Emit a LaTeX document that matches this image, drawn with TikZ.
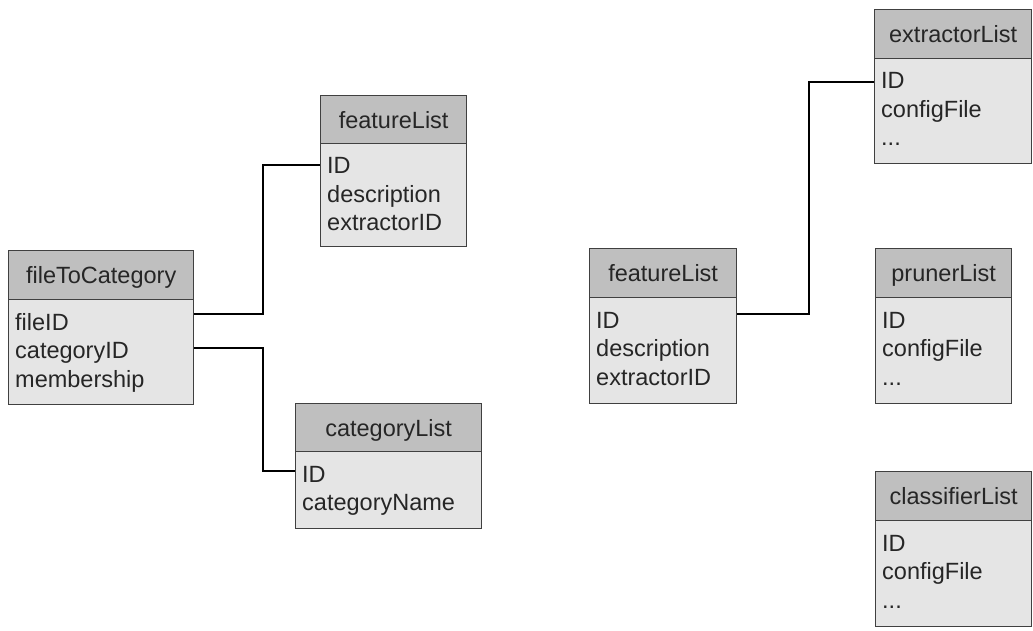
\documentclass[tikz,border=0pt]{standalone}
\usepackage{fontspec}
\setmainfont{Liberation Sans}
\usetikzlibrary{calc}
\begin{document}
\begin{tikzpicture}[x=1bp,y=-1bp,
  tfont/.style={font=\fontsize{23.5bp}{28bp}\selectfont},
  hdrbox/.style={draw=black!75, line width=1.3bp, fill=black!25, inner sep=0pt, anchor=north west, tfont, text=black!85, text height=20bp, text depth=3bp},
  bodybox/.style={draw=black!75, line width=1.3bp, fill=black!10, inner sep=0pt, anchor=north west},
  fld/.style={anchor=base west, inner sep=0pt, tfont, text=black!85},
  conn/.style={draw=black, line width=2bp}]
\useasboundingbox (0,0) rectangle (1033,631);

% fileToCategory
\node[hdrbox, minimum width=185bp, minimum height=49bp] (ftcH) at (8,250) {fileToCategory};
\node[bodybox, minimum width=185bp, minimum height=105bp] (ftcB) at (8,299) {};
\node[fld] (ftc1) at (15,330) {fileID};
\node[fld] (ftc2) at (15,358.5) {categoryID};
\node[fld] (ftc3) at (15,387) {membership};

% featureList (left)
\node[hdrbox, minimum width=146bp, minimum height=48bp] (flH) at (320,95) {featureList};
\node[bodybox, minimum width=146bp, minimum height=103bp] (flB) at (320,143) {};
\node[fld] (fl1) at (327,174) {ID};
\node[fld] (fl2) at (327,202.5) {description};
\node[fld] (fl3) at (327,231) {extractorID};

% categoryList
\node[hdrbox, minimum width=186bp, minimum height=48bp] (catH) at (295,403) {categoryList};
\node[bodybox, minimum width=186bp, minimum height=77bp] (catB) at (295,451) {};
\node[fld] (cat1) at (302,482) {ID};
\node[fld] (cat2) at (302,510.5) {categoryName};

% featureList (right)
\node[hdrbox, minimum width=147bp, minimum height=49bp] (frH) at (589,248) {featureList};
\node[bodybox, minimum width=147bp, minimum height=106bp] (frB) at (589,297) {};
\node[fld] (fr1) at (596,328) {ID};
\node[fld] (fr2) at (596,356.5) {description};
\node[fld] (fr3) at (596,385) {extractorID};

% extractorList
\node[hdrbox, minimum width=157bp, minimum height=49bp] (exH) at (874,9) {extractorList};
\node[bodybox, minimum width=157bp, minimum height=105bp] (exB) at (874,58) {};
\node[fld] (ex1) at (881,89) {ID};
\node[fld] (ex2) at (881,117.5) {configFile};
\node[fld] (ex3) at (881,146) {...};

% prunerList
\node[hdrbox, minimum width=136bp, minimum height=49bp] (prH) at (875,248) {prunerList};
\node[bodybox, minimum width=136bp, minimum height=106bp] (prB) at (875,297) {};
\node[fld] (pr1) at (882,328) {ID};
\node[fld] (pr2) at (882,356.5) {configFile};
\node[fld] (pr3) at (882,385) {...};

% classifierList
\node[hdrbox, minimum width=156bp, minimum height=49bp] (clH) at (875,471) {classifierList};
\node[bodybox, minimum width=156bp, minimum height=106bp] (clB) at (875,520) {};
\node[fld] (cl1) at (882,551) {ID};
\node[fld] (cl2) at (882,579.5) {configFile};
\node[fld] (cl3) at (882,608) {...};

% connectors
\draw[conn] ($(ftcB.north east)+(0,15)$) -- ++(69,0) |- ($(flB.north west)+(0,22)$);
\draw[conn] ($(ftcB.north east)+(0,49)$) -- ++(69,0) |- ($(catB.north west)+(0,20)$);
\draw[conn] ($(frB.north east)+(0,17)$) -- ++(72,0) |- ($(exB.north west)+(0,24)$);
\end{tikzpicture}
\end{document}
